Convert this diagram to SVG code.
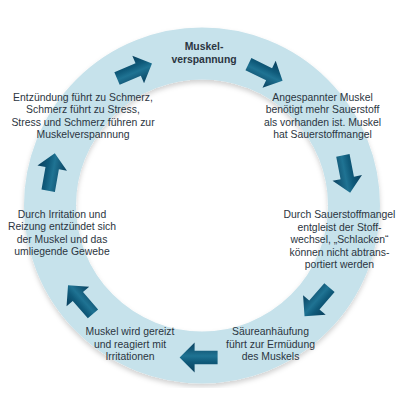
<svg xmlns="http://www.w3.org/2000/svg" xmlns:xlink="http://www.w3.org/1999/xlink" width="407" height="419" viewBox="0 0 407 419">
<style>
  .t { font-family: "Liberation Sans", Arial, sans-serif; font-size: 10.4px; fill: #2b3541; text-anchor: middle; }
  .b { font-weight: bold; }
  .ring { fill: none; stroke: #c6e2eb; stroke-width: 52; }
  .arr { fill: url(#ag); }
</style>
<defs>
  <linearGradient id="ag" x1="0" y1="0" x2="0" y2="1">
    <stop offset="0" stop-color="#0a3f5c"/>
    <stop offset="0.35" stop-color="#0f5a7a"/>
    <stop offset="0.55" stop-color="#1f7393"/>
    <stop offset="1" stop-color="#09405e"/>
  </linearGradient>
  <filter id="sh" x="-10%" y="-10%" width="120%" height="120%">
    <feDropShadow dx="0" dy="3" stdDeviation="2.5" flood-color="#000" flood-opacity="0.18"/>
  </filter>
  <path id="arrow" class="arr" d="M-19,-6.8 L4,-6.8 L4,-15 L19,0 L4,15 L4,6.8 L-19,6.8 Z"/>
</defs>
<rect width="407" height="419" fill="#ffffff"/>
<circle class="ring" cx="202" cy="205.5" r="152" filter="url(#sh)"/>
<g id="connectors">
  <use xlink:href="#arrow" transform="translate(134.5,71) rotate(-23)"/>
  <use xlink:href="#arrow" transform="translate(265.5,72.5) rotate(26)"/>
  <use xlink:href="#arrow" transform="translate(346.5,174) rotate(79)"/>
  <use xlink:href="#arrow" transform="translate(317,302) rotate(131)"/>
  <use xlink:href="#arrow" transform="translate(198.6,357.5) rotate(180)"/>
  <use xlink:href="#arrow" transform="translate(80.5,299.5) rotate(-131)"/>
  <use xlink:href="#arrow" transform="translate(51.5,172) rotate(-80)"/>
</g>
<g id="node-muskelverspannung">
  <text class="t b" x="204" y="50">Muskel-</text>
  <text class="t b" x="204" y="63">verspannung</text>
</g>
<g id="node-sauerstoffmangel">
  <text class="t" x="322.5" y="100.5">Angespannter Muskel</text>
  <text class="t" x="322.5" y="113">benötigt mehr Sauerstoff</text>
  <text class="t" x="322.5" y="125.5">als vorhanden ist. Muskel</text>
  <text class="t" x="322.5" y="138">hat Sauerstoffmangel</text>
</g>
<g id="node-stoffwechsel">
  <text class="t" x="339.5" y="218">Durch Sauerstoffmangel</text>
  <text class="t" x="339.5" y="230.5">entgleist der Stoff-</text>
  <text class="t" x="339.5" y="243">wechsel, „Schlacken“</text>
  <text class="t" x="339.5" y="255.5">können nicht abtrans-</text>
  <text class="t" x="339.5" y="268">portiert werden</text>
</g>
<g id="node-saeure">
  <text class="t" x="270.5" y="335">Säureanhäufung</text>
  <text class="t" x="270.5" y="347.5">führt zur Ermüdung</text>
  <text class="t" x="270.5" y="360">des Muskels</text>
</g>
<g id="node-gereizt">
  <text class="t" x="130" y="335">Muskel wird gereizt</text>
  <text class="t" x="130" y="347.5">und reagiert mit</text>
  <text class="t" x="130" y="360">Irritationen</text>
</g>
<g id="node-entzuendung">
  <text class="t" x="62" y="217.5">Durch Irritation und</text>
  <text class="t" x="62" y="230">Reizung entzündet sich</text>
  <text class="t" x="62" y="242.5">der Muskel und das</text>
  <text class="t" x="62" y="255">umliegende Gewebe</text>
</g>
<g id="node-schmerz">
  <text class="t" x="83" y="100.5">Entzündung führt zu Schmerz,</text>
  <text class="t" x="83" y="113">Schmerz führt zu Stress,</text>
  <text class="t" x="83" y="125.5">Stress und Schmerz führen zur</text>
  <text class="t" x="83" y="138">Muskelverspannung</text>
</g>
</svg>
